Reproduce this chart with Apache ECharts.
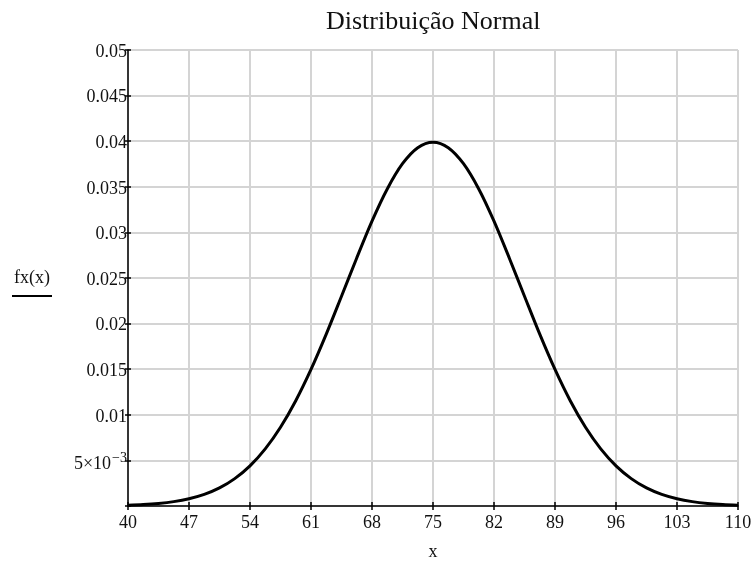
<!DOCTYPE html>
<html>
<head>
<meta charset="utf-8">
<script src="https://cdn.jsdelivr.net/npm/echarts@6/dist/echarts.min.js"></script>
<style>html,body{margin:0;padding:0;background:#fff}#c{width:756px;height:561px}</style>
</head>
<body>
<div id="c"></div>
<script>
var xValues = [40,41.75,43.5,45.25,47,48.75,50.5,52.25,54,55.75,57.5,59.25,61,62.75,64.5,66.25,68,69.75,71.5,73.25,75,
  76.75,78.5,80.25,82,83.75,85.5,87.25,89,90.75,92.5,94.25,96,97.75,99.5,101.25,103,104.75,106.5,108.25,110];
var fxValues = [0.000087,0.000159,0.000280,0.000478,0.000792,0.00127,0.00198,0.00300,0.00440,0.00626,0.00863,0.01154,0.01497,0.01884,0.02300,0.02720,0.03123,0.03476,0.03753,0.03929,0.03989,
  0.03929,0.03753,0.03476,0.03123,0.02720,0.02300,0.01884,0.01497,0.01154,0.00863,0.00626,0.00440,0.00300,0.00198,0.00127,0.000792,0.000478,0.000280,0.000159,0.000087];
var xTicks = {min:40, max:110, step:7};
var yTicks = {min:0, max:0.05, step:0.005};

var serif = '"Liberation Serif","DejaVu Serif","Times New Roman",serif';
var data = xValues.map(function(x,i){return [x, fxValues[i]];});
var chart = echarts.init(document.getElementById('c'));
chart.setOption({
  animation:false,
  title:{text:'Distribuição Normal', left:321, top:4, textStyle:{fontFamily:serif, fontSize:26, fontWeight:'normal', color:'#111'}},
  grid:{left:128, right:18, top:50, bottom:55, outerBoundsMode:'none', containLabel:false},
  xAxis:[{
    type:'value', min:xTicks.min, max:xTicks.max, interval:xTicks.step,
    axisLine:{lineStyle:{color:'#000', width:1.5}},
    axisTick:{length:4, lineStyle:{color:'#000', width:1.5}},
    axisLabel:{margin:8, fontFamily:serif, fontSize:18, color:'#111'},
    splitLine:{show:true, lineStyle:{color:'#d4d4d4', width:2}},
    name:'x', nameLocation:'middle', nameGap:37, nameTextStyle:{fontFamily:serif, fontSize:18, color:'#111'}
  },{
    type:'value', position:'bottom', min:xTicks.min, max:xTicks.max, interval:xTicks.step,
    axisLine:{show:false}, axisLabel:{show:false}, splitLine:{show:false},
    axisTick:{inside:true, length:4, lineStyle:{color:'#000', width:1.5}}
  }],
  yAxis:[{
    type:'value', min:yTicks.min, max:yTicks.max, interval:yTicks.step,
    axisLine:{show:true, lineStyle:{color:'#000', width:1.5}},
    axisTick:{show:true, length:3, lineStyle:{color:'#000', width:1.5}},
    axisLabel:{margin:1, fontFamily:serif, fontSize:18, color:'#111', padding:[4,0,0,0],
      formatter:function(v){
        var r = parseFloat(v.toFixed(4));
        if (r === 0) return '';
        if (Math.abs(r-0.005) < 1e-9) return '{a|5×10}{b|−3}';
        return String(r);
      },
      rich:{
        a:{fontFamily:serif, fontSize:18, color:'#111', lineHeight:22, verticalAlign:'bottom', padding:[8,0,0,0]},
        b:{fontFamily:serif, fontSize:14, color:'#111', lineHeight:22, verticalAlign:'top', padding:[0,0,0,1]}
      }
    },
    splitLine:{show:true, lineStyle:{color:'#d4d4d4', width:2}}
  },{
    type:'value', position:'left', min:yTicks.min, max:yTicks.max, interval:yTicks.step,
    axisLine:{show:false}, axisLabel:{show:false}, splitLine:{show:false},
    axisTick:{show:true, inside:true, length:3, lineStyle:{color:'#000', width:1.5}}
  }],
  graphic:[
    {type:'text', left:14, top:269, style:{text:'fx(x)', font:'18px ' + serif, fill:'#111'}},
    {type:'rect', shape:{x:12, y:295, width:40, height:2}, style:{fill:'#000'}}
  ],
  series:[{
    type:'line', data:data, smooth:0.3, showSymbol:false,
    lineStyle:{color:'#000', width:3}, clip:true
  }]
});
</script>
</body>
</html>
